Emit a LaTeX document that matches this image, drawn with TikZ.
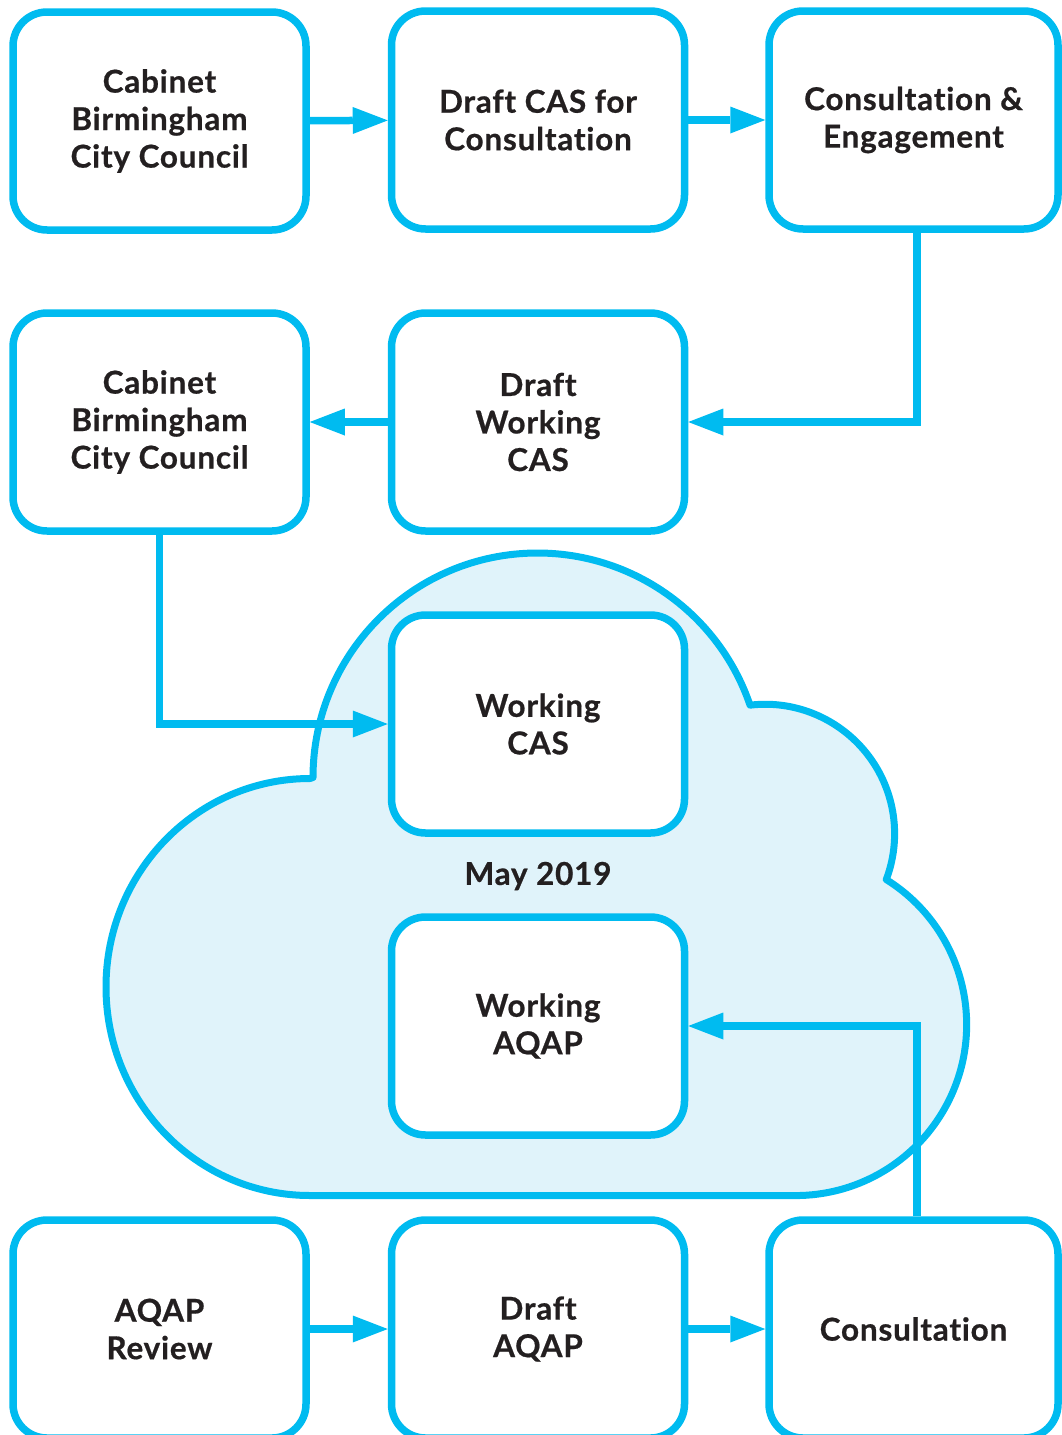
\documentclass[tikz,border=0pt]{standalone}
\usepackage{fontspec}
\setmainfont{Lato}[Ligatures=NoCommon,BoldFeatures={LetterSpace=2.5,FakeBold=0.6,Ligatures=NoCommon}]
\usetikzlibrary{arrows.meta}
\definecolor{cyanline}{HTML}{00BBF0}
\definecolor{cloudfill}{HTML}{E0F3FA}
\definecolor{txt}{HTML}{231F20}
\begin{document}
\begin{tikzpicture}[x=1pt,y=-1pt,
  stepbox/.style={draw=cyanline, line width=7.5pt, rounded corners=34pt, fill=white,
    minimum width=293pt, minimum height=218pt, inner sep=0pt, align=center,
    font=\bfseries\fontsize{31.5}{37.5}\selectfont, text=txt},
  rightbox/.style={stepbox, minimum width=289pt},
  lbl/.style={font=\bfseries\fontsize{31.5}{37.5}\selectfont, text=txt, inner sep=0pt},
  conn/.style={draw=cyanline, line width=7.5pt, -{Triangle[length=35pt,width=27pt,line width=0pt]}},
  cloudstyle/.style={draw=cyanline, fill=cloudfill, line width=7pt, line join=round}
]
\path[use as bounding box] (0,0) rectangle (1062,1435);
\clip (0,0) rectangle (1062,1435);

% cloud
\draw[cloudstyle] (313,777.5)
  arc[start angle=180, end angle=341.2, radius=224.5]
  arc[start angle=-96.7, end angle=20.7, radius=129.5]
  arc[start angle=-58, end angle=90, radius=171]
  -- (310,1195.5)
  arc[start angle=90, end angle=270, x radius=204, y radius=208.5]
  -- cycle;

% row 1
\node[stepbox] (b1) at (159.5,121) {Cabinet\\Birmingham\\City Council};
\node[stepbox] (b2) at (538,120) {Draft CAS for\\Consultation};
\node[rightbox] (b3) at (913.5,120) {Consultation \&\\Engagement};
% row 2
\node[stepbox] (b4) at (159.5,422) {Cabinet\\Birmingham\\City Council};
\node[stepbox] (b5) at (538,422) {Draft\\Working\\CAS};
% cloud contents
\node[stepbox] (wcas) at (538,724) {Working\\CAS};
\node[lbl] (may) at (538,876) {May 2019};
\node[stepbox] (waqap) at (538,1026) {Working\\AQAP};
% row 4
\node[stepbox] (rev) at (159.5,1329) {AQAP\\Review};
\node[stepbox] (daqap) at (538,1329) {Draft\\AQAP};
\node[rightbox] (cons) at (913.5,1329) {Consultation};

% connectors
\draw[conn] (b1) -- (b2);
\draw[conn] (b2) -- (b3);
\draw[conn] ([xshift=3.5pt]b3.south) |- (b5.east);
\draw[conn] (b5) -- (b4);
\draw[conn] (b4.south) |- (wcas.west);
\draw[conn] ([xshift=3.5pt]cons.north) |- (waqap.east);
\draw[conn] (rev) -- (daqap);
\draw[conn] (daqap) -- (cons);
\end{tikzpicture}
\end{document}
